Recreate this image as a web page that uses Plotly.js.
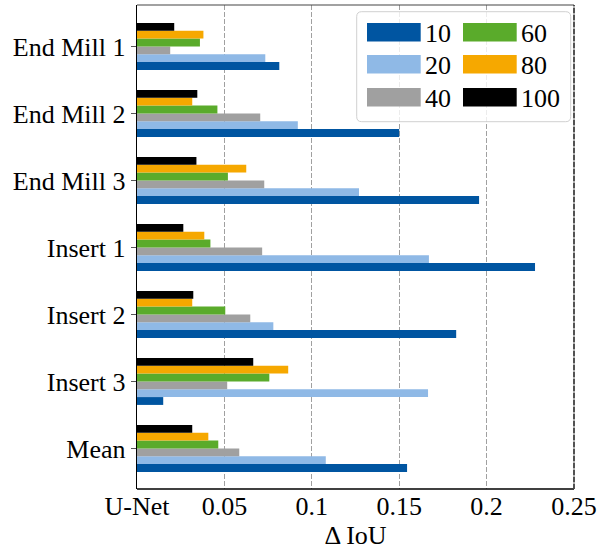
<!DOCTYPE html>
<html><head><meta charset="utf-8">
<script src="https://cdn.plot.ly/plotly-3.0.1.min.js"></script>
<style>html,body{margin:0;padding:0;background:#fff}#chart{width:613px;height:550px}</style>
</head><body><div id="chart"></div>
<script>
const categories = ['End Mill 1','End Mill 2','End Mill 3','Insert 1','Insert 2','Insert 3','Mean'];
const seriesNames = ['10','20','40','60','80','100'];
const s10  = [0.0814,0.150,0.1957,0.2277,0.1826,0.015,0.1545];
const s20  = [0.0734,0.092,0.127,0.167,0.078,0.1665,0.108];
const s40  = [0.019,0.0705,0.0728,0.0716,0.0648,0.0516,0.0585];
const s60  = [0.036,0.046,0.052,0.042,0.0505,0.0757,0.0465];
const s80  = [0.038,0.0316,0.0625,0.0385,0.0316,0.0865,0.0408];
const s100 = [0.0213,0.0345,0.034,0.0265,0.0322,0.0665,0.0316];
const xTickVals = [0,0.05,0.1,0.15,0.2,0.25];
const xTickText = ['U-Net','0.05','0.1','0.15','0.2','0.25'];

const seriesValues = [s10,s20,s40,s60,s80,s100];
const colors = ['#0055A1','#8FB9E6','#A0A0A0','#5AAB2B','#F6A800','#000000'];
const FONT = 'Liberation Serif';
const FS = 26;
const W = 613, H = 550;
const M = {l:137.3, r:38.7, t:5.3, b:60.7};
const PW = W - M.l - M.r, PH = H - M.t - M.b;
const px2x = p => (p - M.l)/PW;
const py2y = p => (H - M.b - p)/PH;

const bw = 0.117;
const traces = seriesNames.map((name,i)=>({
  type:'bar', orientation:'h', name:name,
  x: seriesValues[i], y: categories,
  width: bw, offset: 0.351 - (i+1)*bw,
  marker:{color:colors[i], line:{width:0}},
  showlegend:false, hoverinfo:'skip'
}));

const shapes = [];
const annotations = [];
// spines
shapes.push({type:'line', xref:'paper', yref:'paper', x0:0, x1:1, y0:0, y1:0, line:{color:'#000', width:1.3}, layer:'above'});
shapes.push({type:'line', xref:'paper', yref:'paper', x0:0, x1:1, y0:1, y1:1, line:{color:'#444', width:1.2}, layer:'above'});
shapes.push({type:'line', xref:'paper', yref:'paper', x0:1, x1:1, y0:0, y1:1, line:{color:'#999', width:1.5}, layer:'above'});
shapes.push({type:'line', xref:'paper', yref:'paper', x0:1, x1:1, y0:0, y1:1, line:{color:'#333', width:1.5, dash:'5px,2px'}, layer:'above'});

const bx0=357, bx1=571, by0=12, by1=122, r=5;
const X=px2x, Y=py2y;
const path = `M ${X(bx0+r)} ${Y(by0)} L ${X(bx1-r)} ${Y(by0)} Q ${X(bx1)} ${Y(by0)} ${X(bx1)} ${Y(by0+r)} `+
  `L ${X(bx1)} ${Y(by1-r)} Q ${X(bx1)} ${Y(by1)} ${X(bx1-r)} ${Y(by1)} `+
  `L ${X(bx0+r)} ${Y(by1)} Q ${X(bx0)} ${Y(by1)} ${X(bx0)} ${Y(by1-r)} `+
  `L ${X(bx0)} ${Y(by0+r)} Q ${X(bx0)} ${Y(by0)} ${X(bx0+r)} ${Y(by0)} Z`;
shapes.push({type:'path', xref:'paper', yref:'paper', path:path, fillcolor:'rgba(255,255,255,0.8)', line:{color:'#d0d0d0', width:1}, layer:'above'});

const colSw = [367.3, 463.3], swW = 53.7, swH = 18.4;
const colTx = [424.5, 520.5];
const rowY = [32.5, 64.5, 97.5];
seriesNames.forEach((name,i)=>{
  const c = Math.floor(i/3), rr = i%3;
  const cy = rowY[rr];
  shapes.push({type:'rect', xref:'paper', yref:'paper', x0:X(colSw[c]), x1:X(colSw[c]+swW), y0:Y(cy-swH/2), y1:Y(cy+swH/2), fillcolor:colors[i], line:{width:0}, layer:'above'});
  annotations.push({xref:'paper', yref:'paper', x:X(colTx[c]), y:Y(cy+1), xanchor:'left', yanchor:'middle', text:name, showarrow:false, font:{family:FONT, size:FS, color:'#000'}, borderpad:0});
});

const layout = {
  width:W, height:H,
  margin:{l:M.l, r:M.r, t:M.t, b:M.b, pad:0},
  paper_bgcolor:'#fff', plot_bgcolor:'#fff',
  font:{family:FONT, size:FS, color:'#000'},
  barmode:'overlay',
  xaxis:{
    range:[0,0.25], tickvals:xTickVals, ticktext:xTickText,
    anchor:'free', position:1/PH,
    showgrid:true, gridcolor:'#a0a0a0', gridwidth:1.3, griddash:'5px,2px',
    zeroline:false, showline:false,
    ticks:'', tickfont:{family:FONT, size:FS, color:'#000'},
    title:{text:'Δ IoU', font:{family:FONT, size:FS, color:'#000'}, standoff:12},
    automargin:false
  },
  yaxis:{
    type:'category', categoryarray:categories, categoryorder:'array',
    range:[6.606,-0.618], showgrid:false, zeroline:false,
    showline:true, linecolor:'#000', linewidth:1.3,
    ticks:'outside', ticklen:5, tickwidth:1.5, tickcolor:'#555',
    tickfont:{family:FONT, size:FS, color:'#000'},
    automargin:false
  },
  shapes:shapes, annotations:annotations,
  showlegend:false
};
Plotly.newPlot('chart', traces, layout, {displayModeBar:false, staticPlot:true});
</script></body></html>
